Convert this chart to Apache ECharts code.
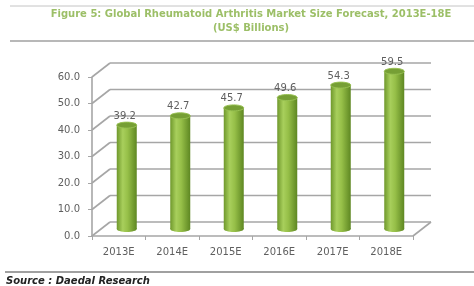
<!DOCTYPE html>
<html>
<head>
<meta charset="utf-8">
<script src="https://cdn.jsdelivr.net/npm/echarts@6/dist/echarts.min.js"></script>
<style>
  html, body { margin: 0; padding: 0; background: #fff; }
  #chart { width: 474px; height: 286px; }
</style>
</head>
<body>
<div id="chart"></div>
<script>
// data
var years = ['2013E', '2014E', '2015E', '2016E', '2017E', '2018E'];
var marketSize = [39.2, 42.7, 45.7, 49.6, 54.3, 59.5];
var gridTicks = [0, 10, 20, 30, 40, 50, 60];

// 3D depth offset of back wall
var DX = 18, DY = -14;
var lineColor = '#a6a6a6';
var textColor = '#5f5f5f';

var dom = document.getElementById('chart');
var myChart = echarts.init(dom, null, { renderer: 'canvas' });

// walls + back gridlines
function renderWalls(params, api) {
  var cs = params.coordSys;
  var v = api.value(0);
  var y = api.coord([0, v])[1];
  var children = [
    { type: 'line', shape: { x1: cs.x, y1: y, x2: cs.x + DX, y2: y + DY },
      style: { stroke: lineColor, lineWidth: 1.6 } },
    { type: 'line', shape: { x1: cs.x + DX, y1: y + DY, x2: cs.x + cs.width + DX, y2: y + DY },
      style: { stroke: lineColor, lineWidth: 1.6 } }
  ];
  if (v === 0) {
    children.push({ type: 'line',
      shape: { x1: cs.x + cs.width, y1: y, x2: cs.x + cs.width + DX, y2: y + DY },
      style: { stroke: lineColor, lineWidth: 1.6 } });
  }
  return { type: 'group', children: children };
}

// cylinder bars
function renderCylinder(params, api) {
  var idx = api.value(0);
  var val = api.value(1);
  var top = api.coord([idx, val]);
  var bot = api.coord([idx, 0]);
  var cx = top[0] + 8;
  var ty = top[1] - 7;
  var by = bot[1] - 7;
  var w = 20, rx = w / 2, ry = 3;
  var bodyFill = new echarts.graphic.LinearGradient(0, 0, 1, 0, [
    { offset: 0, color: '#6f982c' },
    { offset: 0.3, color: '#a8cf5c' },
    { offset: 0.55, color: '#96bf48' },
    { offset: 1, color: '#5e8722' }
  ]);
  return {
    type: 'group',
    children: [
      { type: 'ellipse', shape: { cx: cx, cy: by, rx: rx, ry: ry }, style: { fill: bodyFill } },
      { type: 'rect', shape: { x: cx - rx, y: ty, width: w, height: by - ty }, style: { fill: bodyFill } },
      { type: 'ellipse', shape: { cx: cx, cy: ty, rx: rx, ry: ry },
        style: { fill: '#769f35', stroke: '#98c152', lineWidth: 1 } },
      { type: 'text', x: cx - 2, y: ty - ry - 1,
        style: { text: val.toFixed(1), fill: textColor, fontSize: 10, fontFamily: 'DejaVu Sans',
                 align: 'center', verticalAlign: 'bottom' } }
    ]
  };
}

var wallData = gridTicks.map(function (t) { return [t]; });
var barData = marketSize.map(function (v, i) { return [i, v]; });

var option = {
  animation: false,
  title: {
    text: 'Figure 5: Global Rheumatoid Arthritis Market Size Forecast, 2013E-18E\n(US$ Billions)',
    left: 246,
    top: 2,
    textAlign: 'center',
    textStyle: { color: '#9cbf67', fontSize: 10, fontWeight: 'bold', fontFamily: 'DejaVu Sans', lineHeight: 14 }
  },
  graphic: [
    { type: 'line', shape: { x1: 10, y1: 6, x2: 474, y2: 6 }, style: { stroke: '#c4c4c4', lineWidth: 1 } },
    { type: 'line', shape: { x1: 10, y1: 41, x2: 474, y2: 41 }, style: { stroke: '#a0a0a0', lineWidth: 1.5 } },
    { type: 'line', shape: { x1: 5, y1: 272, x2: 474, y2: 272 }, style: { stroke: '#a0a0a0', lineWidth: 2 } },
    { type: 'text', left: 6, top: 276,
      style: { text: 'Source : Daedal Research', fill: '#222', fontSize: 10, fontWeight: 'bold',
               fontStyle: 'italic', fontFamily: 'DejaVu Sans' } }
  ],
  grid: { left: 92, right: 61, top: 77, bottom: 50 },
  xAxis: {
    type: 'category',
    data: years,
    axisLine: { lineStyle: { color: lineColor, width: 1.6 } },
    axisTick: { show: true, length: 4, lineStyle: { color: lineColor } },
    axisLabel: { color: textColor, fontSize: 10, fontFamily: 'DejaVu Sans', margin: 11 }
  },
  yAxis: {
    type: 'value',
    min: 0, max: 60, interval: 10,
    axisLine: { show: true, lineStyle: { color: lineColor, width: 1.6 } },
    axisTick: { show: true, length: 4, lineStyle: { color: lineColor } },
    splitLine: { show: false },
    axisLabel: { color: textColor, fontSize: 10, fontFamily: 'DejaVu Sans', margin: 12,
                 formatter: function (v) { return v.toFixed(1); } }
  },
  series: [
    { type: 'custom', renderItem: renderWalls, data: wallData, encode: { y: 0 }, silent: true, z: 1 },
    { type: 'custom', renderItem: renderCylinder, data: barData, encode: { x: 0, y: 1 }, z: 2 }
  ]
};

myChart.setOption(option);
window.addEventListener('resize', myChart.resize);
</script>
</body>
</html>
